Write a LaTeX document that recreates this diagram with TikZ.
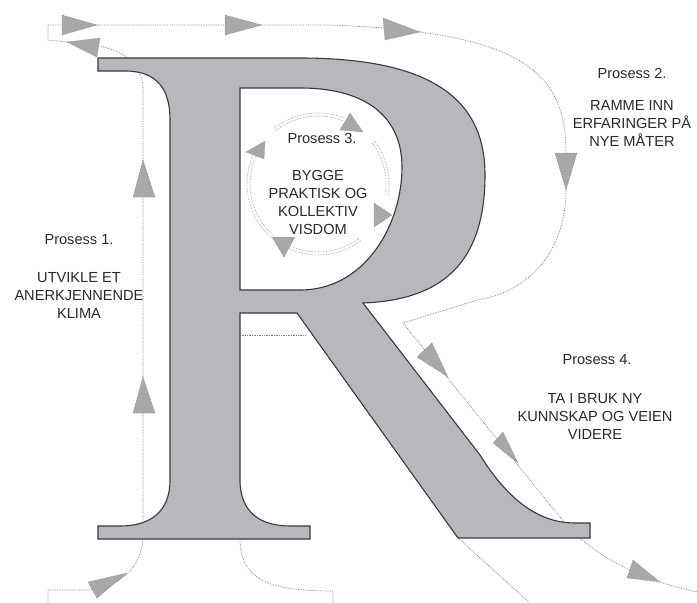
\documentclass[tikz,border=0pt]{standalone}
\usepackage{fontspec}
\setmainfont{Liberation Sans}
\definecolor{bokstav}{HTML}{B7B8BC}
\definecolor{kant}{HTML}{3A3A3A}
\definecolor{sporgraa}{HTML}{7C7C7C}
\definecolor{pilgraa}{HTML}{A8A8A8}
\definecolor{tekstgraa}{HTML}{2A2A2A}
\tikzset{
	spor/.style={draw=sporgraa, densely dotted, line width=0.7pt},
	pil/.style={fill=pilgraa, draw=sporgraa, densely dotted, line width=0.5pt},
	ring/.style={draw=sporgraa!85, densely dotted, line width=0.6pt},
	tittel/.style={text=tekstgraa, font=\fontsize{14.6}{18}\selectfont, inner sep=0pt},
	tekstblokk/.style={tittel, align=center},
}
\begin{document}
\begin{tikzpicture}[x=1pt, y=-1pt]
	\useasboundingbox[fill=white] (0,0) rectangle (697,603);
	% sporene rundt bokstaven
	\draw[spor] (48,603) -- (48,590) -- (88,590) .. controls (118,588) and (143,568) .. (143,535)
		-- (143,90) .. controls (143,55) and (110,44) .. (67,42) -- (48,40) -- (48,25) -- (330,25)
		.. controls (520,32) and (566,70) .. (566,153) -- (566,190)
		.. controls (566,250) and (530,292) .. (477,300) -- (403,323) -- (560,517)
		.. controls (590,555) and (640,580) .. (697,592);
	\draw[spor] (240,539) .. controls (240,580) and (270,591) .. (333,591) -- (333,603);
	\draw[spor] (458,538) -- (530,603);
	\draw[spor] (240,335) -- (305,335);
	\foreach \r in {68,71}
		\foreach \fra/\til in {-128/-68, -37/10, 53/118, -229/-155}
			\draw[ring] (318,184) ++(\fra:\r) arc[start angle=\fra, end angle=\til, radius=\r];
	% bokstaven R
	\filldraw[fill=bokstav, draw=kant, line width=1.1pt, even odd rule]
		(98,58) -- (300,58) .. controls (440,58) and (485,105) .. (485,175)
		.. controls (485,265) and (440,300) .. (363,303) -- (480,455)
		.. controls (505,495) and (535,523) .. (575,523) -- (590,523) -- (590,538) -- (458,538)
		-- (297,313) -- (240,313) -- (240,480) .. controls (240,512) and (260,526) .. (290,526)
		-- (310,526) -- (310,539) -- (98,539) -- (98,526) -- (120,526)
		.. controls (150,526) and (170,512) .. (170,480) -- (170,120)
		.. controls (170,90) and (158,71) .. (125,71) -- (98,71) -- cycle
		(240,88) -- (300,88) .. controls (370,88) and (402,120) .. (402,167)
		.. controls (402,225) and (365,290) .. (300,290) -- (240,290) -- cycle;
	% piler
	\filldraw[pil] (62,15) -- (97,25) -- (62,35) -- cycle;
	\filldraw[pil] (225,15) -- (262,25) -- (225,35) -- cycle;
	\filldraw[pil] (383,18) -- (420,32) -- (385,40) -- cycle;
	\filldraw[pil] (555,153) -- (577,153) -- (566,190) -- cycle;
	\filldraw[pil] (67,42) -- (100,38) -- (97,57) -- cycle;
	\filldraw[pil] (133,197) -- (155,197) -- (143,160) -- cycle;
	\filldraw[pil] (133,413) -- (155,413) -- (143,377) -- cycle;
	\filldraw[pil] (88,582) -- (127,573) -- (97,598) -- cycle;
	\filldraw[pil] (417,357) -- (432,343) -- (448,377) -- cycle;
	\filldraw[pil] (493,443) -- (503,432) -- (518,463) -- cycle;
	\filldraw[pil] (627,578) -- (633,560) -- (660,582) -- cycle;
	\filldraw[pil] (340,130) -- (350,113) -- (363,132) -- cycle;
	\filldraw[pil] (246,152) -- (265,141) -- (264,159) -- cycle;
	\filldraw[pil] (374,203) -- (392,215) -- (374,227) -- cycle;
	\filldraw[pil] (272,237) -- (295,237) -- (284,257) -- cycle;
	% tekster
	\node[tittel] (pros1) at (79,240) {Prosess 1.};
	\node[tekstblokk] (klima) at (79,295) {UTVIKLE ET\\ANERKJENNENDE\\KLIMA};
	\node[tittel] (pros2) at (632,73) {Prosess 2.};
	\node[tekstblokk] (maater) at (632,123) {RAMME INN\\ERFARINGER PÅ\\NYE MÅTER};
	\node[tittel] (pros3) at (322,138) {Prosess 3.};
	\node[tekstblokk] (visdom) at (318,202) {BYGGE\\PRAKTISK OG\\KOLLEKTIV\\VISDOM};
	\node[tittel] (pros4) at (597,360) {Prosess 4.};
	\node[tekstblokk] (videre) at (595,416) {TA I BRUK NY\\KUNNSKAP OG VEIEN\\VIDERE};
\end{tikzpicture}
\end{document}
